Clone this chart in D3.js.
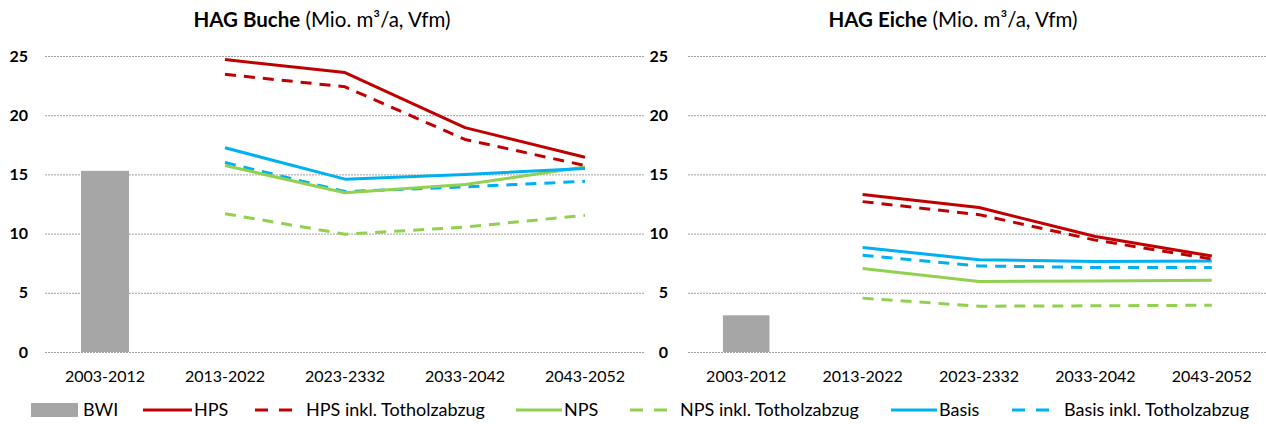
<!DOCTYPE html>
<html><head><meta charset="utf-8">
<script src="https://cdn.jsdelivr.net/npm/d3@7"></script>
<style>
html,body{margin:0;padding:0;background:#fff;}
svg text{font-family:Lato,"Open Sans",sans-serif;fill:#000;}
</style></head>
<body>
<svg id="c" width="1266" height="424"></svg>
<script>
const categories = ["2003-2012","2013-2022","2023-2332","2033-2042","2043-2052"];
const projCats = ["2013-2022","2023-2332","2033-2042","2043-2052"];
const yTicks = [0,5,10,15,20,25];

// HAG Buche
const buche_BWI = [15.3];
const buche_HPS = [24.7, 23.6, 18.95, 16.45];
const buche_HPS_tot = [23.45, 22.4, 17.95, 15.75];
const buche_NPS = [15.75, 13.45, 14.15, 15.62];
const buche_NPS_tot = [11.68, 9.95, 10.55, 11.55];
const buche_Basis = [17.25, 14.6, 15.0, 15.5];
const buche_Basis_tot = [16.0, 13.55, 13.95, 14.42];

// HAG Eiche
const eiche_BWI = [3.1];
const eiche_HPS = [13.3, 12.2, 9.75, 8.1];
const eiche_HPS_tot = [12.7, 11.6, 9.45, 7.85];
const eiche_NPS = [7.05, 5.95, 6.0, 6.05];
const eiche_NPS_tot = [4.55, 3.87, 3.9, 3.95];
const eiche_Basis = [8.82, 7.8, 7.65, 7.68];
const eiche_Basis_tot = [8.17, 7.27, 7.13, 7.13];

const seriesNames = ["BWI","HPS","HPS inkl. Totholzabzug","NPS","NPS inkl. Totholzabzug","Basis","Basis inkl. Totholzabzug"];

const RED="#C00000", GREEN="#92D050", BLUE="#00B0F0", GREY="#A6A6A6";
const DASH="11,8";

const svg = d3.select("#c");

function drawPanel(cfg){
  const g = svg.append("g");
  const x = d3.scaleBand().domain(categories).range([cfg.x0, cfg.x1]);
  const y = d3.scaleLinear().domain([0,25]).range([352,56]);

  // title
  const t = g.append("text").attr("x",(cfg.tx)).attr("y",27).attr("text-anchor","middle").style("font-size","20.5px");
  t.append("tspan").attr("font-weight","bold").text(cfg.title);
  t.append("tspan").text(" (Mio. m³/a, Vfm)");

  // grid
  g.append("g").selectAll("line").data(yTicks).join("line")
    .attr("x1",cfg.gx0).attr("x2",cfg.gx1)
    .attr("y1",d=>y(d)+0.5).attr("y2",d=>y(d)+0.5)
    .attr("stroke","#a0a0a0").attr("stroke-width",1).attr("stroke-dasharray","2,1");

  // y labels
  const ya = d3.axisLeft(y).tickValues(yTicks).tickSize(0).tickPadding(0);
  const yg = g.append("g").attr("transform",`translate(${cfg.ylx},0)`).call(ya);
  yg.select(".domain").remove();
  yg.selectAll("text").style("font-size","16px").attr("font-weight","bold").attr("fill","#000")
    .style("font-family","Lato,'Open Sans',sans-serif");

  // x labels
  const xa = d3.axisBottom(x).tickSize(0).tickPadding(0);
  const xg = g.append("g").attr("transform",`translate(0,371)`).call(xa);
  xg.select(".domain").remove();
  xg.selectAll("text").style("font-size","16px").attr("fill","#000").attr("dy","0.71em")
    .style("font-family","Lato,'Open Sans',sans-serif");

  // bar
  const bw = x.bandwidth()*0.4;
  g.append("g").selectAll("rect").data(cfg.bwi).join("rect")
    .attr("x",x(categories[0])+x.bandwidth()/2-bw/2)
    .attr("width",bw)
    .attr("y",d=>y(d)).attr("height",d=>y(0)-y(d))
    .attr("fill",GREY);

  const line = d3.line()
    .x((d,i)=>x(projCats[i])+x.bandwidth()/2)
    .y(d=>y(d));

  cfg.series.forEach(s=>{
    g.append("path").datum(s.v).attr("d",line)
      .attr("fill","none").attr("stroke",s.c).attr("stroke-width",3)
      .attr("stroke-linejoin","round")
      .attr("stroke-dasharray",s.dash?DASH:null);
  });
}

const seriesOrder = (h,ht,n,nt,b,bt)=>[
  {v:nt,c:GREEN,dash:true},
  {v:bt,c:BLUE,dash:true},
  {v:n,c:GREEN},
  {v:b,c:BLUE},
  {v:ht,c:RED,dash:true},
  {v:h,c:RED}
];

drawPanel({x0:45,x1:645,gx0:45,gx1:645,ylx:28,tx:322,title:"HAG Buche",bwi:buche_BWI,
  series:seriesOrder(buche_HPS,buche_HPS_tot,buche_NPS,buche_NPS_tot,buche_Basis,buche_Basis_tot)});
drawPanel({x0:688,x1:1270,gx0:688,gx1:1266,ylx:668,tx:953,title:"HAG Eiche",bwi:eiche_BWI,
  series:seriesOrder(eiche_HPS,eiche_HPS_tot,eiche_NPS,eiche_NPS_tot,eiche_Basis,eiche_Basis_tot)});

// legend
const legendItems = [
  {name:seriesNames[0],type:"bar",c:GREY,x:31,w:47,tx:83},
  {name:seriesNames[1],type:"line",c:RED,x:143,w:49,tx:194},
  {name:seriesNames[2],type:"dash",c:RED,x:255,w:37,tx:306},
  {name:seriesNames[3],type:"line",c:GREEN,x:516,w:46,tx:564},
  {name:seriesNames[4],type:"dash",c:GREEN,x:630,w:37,tx:680},
  {name:seriesNames[5],type:"line",c:BLUE,x:891,w:46,tx:939},
  {name:seriesNames[6],type:"dash",c:BLUE,x:1012,w:37,tx:1064}
];
const lg = svg.append("g");
const ly = 410;
legendItems.forEach(it=>{
  if(it.type==="bar"){
    lg.append("rect").attr("x",it.x).attr("y",ly-7).attr("width",it.w).attr("height",14).attr("fill",it.c);
  } else {
    lg.append("line").attr("x1",it.x).attr("x2",it.x+it.w).attr("y1",ly).attr("y2",ly)
      .attr("stroke",it.c).attr("stroke-width",3)
      .attr("stroke-dasharray",it.type==="dash"?"13,11":null);
  }
  lg.append("text").attr("x",it.tx).attr("y",ly).attr("dy","0.35em")
    .style("font-size","18px").text(it.name);
});
</script>
</body></html>
